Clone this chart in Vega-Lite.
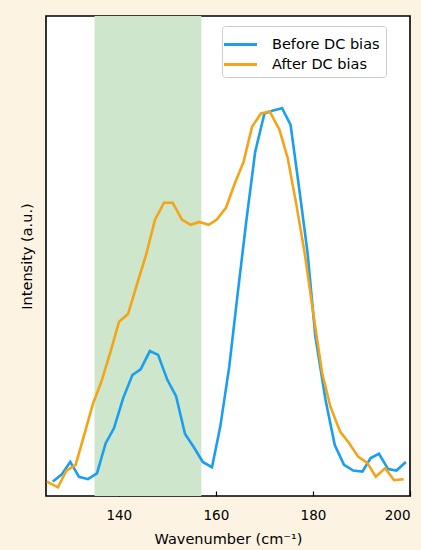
{
  "$schema": "https://vega.github.io/schema/vega-lite/v6.json",
  "width": 364,
  "height": 480,
  "autosize": {"type": "none"},
  "padding": {"left": 46, "top": 16, "right": 11, "bottom": 54},
  "background": "#fdf3e3",
  "config": {
    "font": "DejaVu Sans",
    "view": {"stroke": "black", "strokeWidth": 1.6, "fill": "white"}
  },
  "datasets": {
    "band": [{"x0": 135, "x1": 157}],
    "spectra": [
      {"w": 126.4, "v": 0.030, "s": "Before DC bias"},
      {"w": 128.15, "v": 0.044, "s": "Before DC bias"},
      {"w": 130.0, "v": 0.071, "s": "Before DC bias"},
      {"w": 131.8, "v": 0.040, "s": "Before DC bias"},
      {"w": 133.65, "v": 0.035, "s": "Before DC bias"},
      {"w": 135.5, "v": 0.047, "s": "Before DC bias"},
      {"w": 137.3, "v": 0.110, "s": "Before DC bias"},
      {"w": 139.0, "v": 0.141, "s": "Before DC bias"},
      {"w": 140.9, "v": 0.204, "s": "Before DC bias"},
      {"w": 142.8, "v": 0.252, "s": "Before DC bias"},
      {"w": 144.5, "v": 0.264, "s": "Before DC bias"},
      {"w": 146.4, "v": 0.302, "s": "Before DC bias"},
      {"w": 148.1, "v": 0.294, "s": "Before DC bias"},
      {"w": 150.0, "v": 0.242, "s": "Before DC bias"},
      {"w": 151.8, "v": 0.208, "s": "Before DC bias"},
      {"w": 153.65, "v": 0.129, "s": "Before DC bias"},
      {"w": 155.5, "v": 0.101, "s": "Before DC bias"},
      {"w": 157.3, "v": 0.071, "s": "Before DC bias"},
      {"w": 159.2, "v": 0.060, "s": "Before DC bias"},
      {"w": 160.9, "v": 0.144, "s": "Before DC bias"},
      {"w": 162.75, "v": 0.269, "s": "Before DC bias"},
      {"w": 164.5, "v": 0.422, "s": "Before DC bias"},
      {"w": 166.3, "v": 0.575, "s": "Before DC bias"},
      {"w": 168.1, "v": 0.717, "s": "Before DC bias"},
      {"w": 170.0, "v": 0.797, "s": "Before DC bias"},
      {"w": 171.8, "v": 0.803, "s": "Before DC bias"},
      {"w": 173.65, "v": 0.808, "s": "Before DC bias"},
      {"w": 175.4, "v": 0.773, "s": "Before DC bias"},
      {"w": 177.2, "v": 0.638, "s": "Before DC bias"},
      {"w": 178.9, "v": 0.506, "s": "Before DC bias"},
      {"w": 180.5, "v": 0.332, "s": "Before DC bias"},
      {"w": 182.6, "v": 0.200, "s": "Before DC bias"},
      {"w": 184.5, "v": 0.106, "s": "Before DC bias"},
      {"w": 186.4, "v": 0.065, "s": "Before DC bias"},
      {"w": 188.3, "v": 0.053, "s": "Before DC bias"},
      {"w": 190.2, "v": 0.051, "s": "Before DC bias"},
      {"w": 191.9, "v": 0.079, "s": "Before DC bias"},
      {"w": 193.6, "v": 0.088, "s": "Before DC bias"},
      {"w": 195.5, "v": 0.056, "s": "Before DC bias"},
      {"w": 197.2, "v": 0.053, "s": "Before DC bias"},
      {"w": 199.15, "v": 0.071, "s": "Before DC bias"},
      {"w": 125.17, "v": 0.030, "s": "After DC bias"},
      {"w": 127.45, "v": 0.018, "s": "After DC bias"},
      {"w": 129.2, "v": 0.053, "s": "After DC bias"},
      {"w": 131.1, "v": 0.065, "s": "After DC bias"},
      {"w": 132.97, "v": 0.131, "s": "After DC bias"},
      {"w": 134.7, "v": 0.193, "s": "After DC bias"},
      {"w": 136.4, "v": 0.238, "s": "After DC bias"},
      {"w": 138.3, "v": 0.301, "s": "After DC bias"},
      {"w": 140.06, "v": 0.363, "s": "After DC bias"},
      {"w": 141.9, "v": 0.379, "s": "After DC bias"},
      {"w": 143.8, "v": 0.443, "s": "After DC bias"},
      {"w": 145.6, "v": 0.502, "s": "After DC bias"},
      {"w": 147.45, "v": 0.575, "s": "After DC bias"},
      {"w": 149.3, "v": 0.611, "s": "After DC bias"},
      {"w": 151.1, "v": 0.611, "s": "After DC bias"},
      {"w": 153.0, "v": 0.576, "s": "After DC bias"},
      {"w": 154.8, "v": 0.565, "s": "After DC bias"},
      {"w": 156.6, "v": 0.571, "s": "After DC bias"},
      {"w": 158.5, "v": 0.565, "s": "After DC bias"},
      {"w": 160.2, "v": 0.576, "s": "After DC bias"},
      {"w": 162.1, "v": 0.601, "s": "After DC bias"},
      {"w": 163.85, "v": 0.650, "s": "After DC bias"},
      {"w": 165.7, "v": 0.696, "s": "After DC bias"},
      {"w": 167.45, "v": 0.769, "s": "After DC bias"},
      {"w": 169.3, "v": 0.797, "s": "After DC bias"},
      {"w": 171.1, "v": 0.801, "s": "After DC bias"},
      {"w": 173.1, "v": 0.763, "s": "After DC bias"},
      {"w": 174.8, "v": 0.704, "s": "After DC bias"},
      {"w": 176.6, "v": 0.606, "s": "After DC bias"},
      {"w": 178.3, "v": 0.506, "s": "After DC bias"},
      {"w": 180.06, "v": 0.381, "s": "After DC bias"},
      {"w": 181.9, "v": 0.256, "s": "After DC bias"},
      {"w": 183.6, "v": 0.186, "s": "After DC bias"},
      {"w": 185.6, "v": 0.134, "s": "After DC bias"},
      {"w": 187.4, "v": 0.111, "s": "After DC bias"},
      {"w": 189.3, "v": 0.082, "s": "After DC bias"},
      {"w": 191.2, "v": 0.069, "s": "After DC bias"},
      {"w": 192.95, "v": 0.040, "s": "After DC bias"},
      {"w": 194.9, "v": 0.058, "s": "After DC bias"},
      {"w": 196.7, "v": 0.033, "s": "After DC bias"},
      {"w": 198.7, "v": 0.035, "s": "After DC bias"}
    ]
  },
  "layer": [
    {
      "data": {"name": "band"},
      "mark": {"type": "rect", "color": "#cde6cc"},
      "encoding": {
        "x": {"field": "x0", "type": "quantitative", "scale": {"domain": [125, 200]}},
        "x2": {"field": "x1"}
      }
    },
    {
      "data": {"name": "spectra"},
      "mark": {"type": "line", "strokeWidth": 2.6, "clip": true},
      "encoding": {
        "x": {
          "field": "w", "type": "quantitative",
          "scale": {"domain": [125, 200], "nice": false, "zero": false},
          "axis": {
            "title": "Wavenumber (cm⁻¹)",
            "values": [140, 160, 180, 200],
            "grid": false, "domain": false,
            "tickSize": -5, "tickColor": "black", "tickWidth": 1.2,
            "labelFontSize": 13.5, "labelColor": "black", "labelPadding": 17,
            "titleFontSize": 14.5, "titleFontWeight": "normal", "titleColor": "black", "titlePadding": 11
          }
        },
        "y": {
          "field": "v", "type": "quantitative",
          "scale": {"domain": [0, 1], "nice": false},
          "axis": {
            "title": "Intensity (a.u.)",
            "labels": false, "ticks": false, "grid": false, "domain": false,
            "titleFontSize": 14.5, "titleFontWeight": "normal", "titleColor": "black", "titlePadding": 12
          }
        },
        "color": {
          "field": "s", "type": "nominal",
          "scale": {"domain": ["Before DC bias", "After DC bias"], "range": ["#1a9ef0", "#f5a317"]},
          "legend": {
            "title": null, "orient": "none", "legendX": 176, "legendY": 10,
            "symbolType": "M-1.5,0H1.5", "symbolSize": 484, "symbolStrokeWidth": 3,
            "labelFontSize": 14.5, "labelColor": "black", "labelOffset": 19,
            "rowPadding": 1, "padding": 6,
            "fillColor": "rgba(255,255,255,0.85)", "strokeColor": "#cccccc", "cornerRadius": 3
          }
        },
        "order": {"field": "w", "type": "quantitative"}
      }
    }
  ]
}
